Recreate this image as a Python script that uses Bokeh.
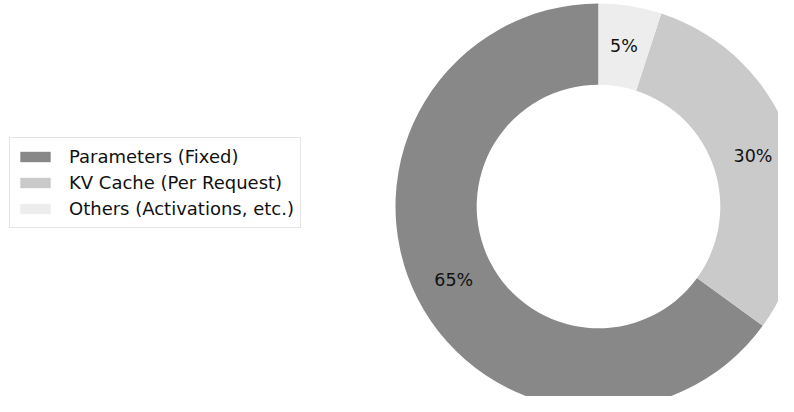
import math
from bokeh.plotting import figure
from bokeh.models import Range1d, Legend, LegendItem, ColumnDataSource
from bokeh.embed import file_html
from bokeh.resources import INLINE

labels = ["Parameters (Fixed)", "KV Cache (Per Request)", "Others (Activations, etc.)"]
shares = [65, 30, 5]
colors = ["#888888", "#cacaca", "#ededed"]

FONT = "DejaVu Sans"
W, H = 778, 396
cx, cy, R = 598, 412 - 206, 203
inner = 0.6 * R

total = float(sum(shares))
starts, ends, mids = [], [], []
a = math.pi / 2
for s in shares:
    span = 2 * math.pi * s / total
    starts.append(a)
    ends.append(a + span)
    mids.append(a + span / 2)
    a += span

src = ColumnDataSource(dict(
    start=starts, end=ends, color=colors, label=labels,
    tx=[cx + 0.8 * R * math.cos(m) for m in mids],
    ty=[cy + 0.8 * R * math.sin(m) for m in mids],
    pct=["%d%%" % s for s in shares],
))

p = figure(width=W, height=H, output_backend="svg", toolbar_location=None,
           x_range=Range1d(0, W), y_range=Range1d(412 - H, 412), min_border=0,
           match_aspect=False)
p.axis.visible = False
p.grid.visible = False
p.outline_line_color = None
p.background_fill_color = "white"
p.border_fill_color = "white"

p.annular_wedge(x=cx, y=cy, inner_radius=inner, outer_radius=R,
                start_angle="start", end_angle="end", direction="anticlock",
                fill_color="color", line_color=None, source=src)

p.text(x="tx", y="ty", text="pct", source=src, text_align="center",
       text_baseline="middle", text_font_size="17.5px", text_color="#111111",
       text_font={"value": FONT})

items = []
for lab, col in zip(labels, colors):
    r = p.quad(left=[-60], right=[-50], top=[-50], bottom=[-60],
               fill_color=col, line_color=None)
    items.append(LegendItem(label=lab, renderers=[r]))

legend = Legend(items=items, location=(9, H - 228), orientation="vertical",
                glyph_width=38, glyph_height=13, label_height=25, spacing=1,
                padding=6, margin=0, label_standoff=15,
                label_text_font=FONT, label_text_font_size="18px",
                label_text_color="#111111",
                border_line_color="#cccccc", border_line_width=1,
                background_fill_color="white", background_fill_alpha=1.0)
p.add_layout(legend, "center")

open("out.html", "w").write(file_html(p, INLINE))
